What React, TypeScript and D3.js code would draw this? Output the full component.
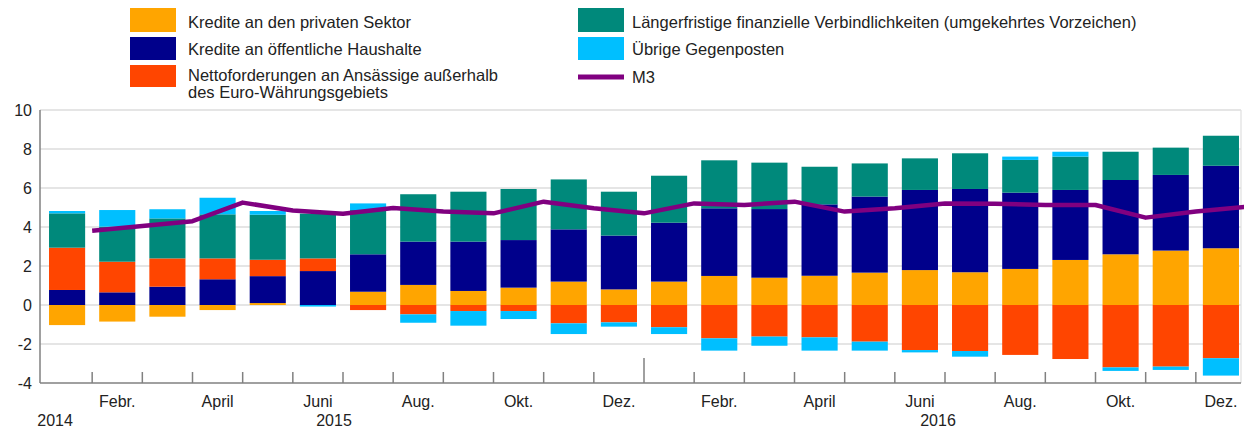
import React from "react";
import * as d3 from "d3";

const months = [
  "Jan 2015", "Feb 2015", "Mär 2015", "Apr 2015", "Mai 2015", "Jun 2015",
  "Jul 2015", "Aug 2015", "Sep 2015", "Okt 2015", "Nov 2015", "Dez 2015",
  "Jan 2016", "Feb 2016", "Mär 2016", "Apr 2016", "Mai 2016", "Jun 2016",
  "Jul 2016", "Aug 2016", "Sep 2016", "Okt 2016", "Nov 2016", "Dez 2016",
];

const privat = [-1.03, -0.85, -0.6, -0.26, 0.1, 0.0, 0.68, 1.03, 0.72, 0.89, 1.2, 0.8, 1.2, 1.49, 1.4, 1.5, 1.66, 1.79, 1.68, 1.85, 2.31, 2.6, 2.79, 2.91];
const oeffentlich = [0.77, 0.65, 0.94, 1.32, 1.38, 1.74, 1.92, 2.22, 2.53, 2.44, 2.68, 2.76, 3.02, 3.47, 3.52, 3.66, 3.9, 4.11, 4.27, 3.91, 3.59, 3.81, 3.88, 4.23];
const netto = [2.17, 1.57, 1.45, 1.07, 0.84, 0.65, -0.26, -0.48, -0.31, -0.31, -0.94, -0.89, -1.14, -1.71, -1.62, -1.66, -1.88, -2.31, -2.36, -2.56, -2.77, -3.2, -3.16, -2.73];
const laengerfristig = [1.76, 1.8, 2.05, 2.26, 2.31, 2.3, 2.27, 2.43, 2.56, 2.62, 2.56, 2.25, 2.41, 2.46, 2.38, 1.93, 1.7, 1.62, 1.83, 1.68, 1.71, 1.45, 1.4, 1.54];
const uebrige = [0.12, 0.85, 0.47, 0.85, 0.19, -0.08, 0.34, -0.43, -0.75, -0.41, -0.55, -0.22, -0.35, -0.63, -0.47, -0.68, -0.46, -0.12, -0.29, 0.17, 0.25, -0.18, -0.17, -0.89];
const m3 = [3.81, 4.05, 4.3, 5.25, 4.85, 4.68, 4.97, 4.79, 4.7, 5.3, 4.96, 4.7, 5.21, 5.13, 5.3, 4.79, 4.96, 5.21, 5.19, 5.13, 5.13, 4.48, 4.79, 5.04];

const yTicks = [-4, -2, 0, 2, 4, 6, 8, 10];
const monthLabels: [number, string][] = [
  [1, "Febr."], [3, "April"], [5, "Juni"], [7, "Aug."], [9, "Okt."], [11, "Dez."],
  [13, "Febr."], [15, "April"], [17, "Juni"], [19, "Aug."], [21, "Okt."], [23, "Dez."],
];
const yearLabels: [number, string, number][] = [
  [0, "2014", -12],
  [6, "2015", -9],
  [18, "2016", -7],
];

const seriesKeys = ["privat", "oeff", "netto", "lang", "uebr"];
const seriesNames = [
  "Kredite an den privaten Sektor",
  "Kredite an öffentliche Haushalte",
  "Nettoforderungen an Ansässige außerhalb",
  "Längerfristige finanzielle Verbindlichkeiten (umgekehrtes Vorzeichen)",
  "Übrige Gegenposten",
];
const colors: Record<string, string> = {
  privat: "#FFA500",
  oeff: "#00008B",
  netto: "#FF4500",
  lang: "#00897B",
  uebr: "#00BFFF",
};
const m3Color = "#800080";

const W = 1244;
const H = 430;
const FONT = "'Liberation Sans', Arial, Helvetica, sans-serif";

export default function App() {
  const rows = months.map((m, i) => ({
    month: m,
    privat: privat[i],
    oeff: oeffentlich[i],
    netto: netto[i],
    lang: laengerfristig[i],
    uebr: uebrige[i],
  }));

  const x = d3.scaleBand<string>().domain(months).range([42, 1246]).paddingInner(0.28).paddingOuter(0.14);
  const y = d3.scaleLinear().domain([-4, 10]).range([383, 110]);
  const step = x.step();
  const bw = x.bandwidth();
  const boundary = (i: number) => (x(months[i]) as number) + bw + (step * 0.28) / 2;

  const stack = d3
    .stack<any>()
    .keys(seriesKeys)
    .order(d3.stackOrderNone)
    .offset(d3.stackOffsetDiverging);
  const stacked = stack(rows);

  const line = d3
    .line<number>()
    .x((_, i) => boundary(i))
    .y((d) => y(d));

  const plotLeft = 40;
  const plotRight = 1241;

  return (
    <svg width={W} height={H} style={{ position: "absolute", left: 0, top: 0, display: "block", background: "#fff" }} fontFamily={FONT}>
      {/* gridlines */}
      {yTicks.filter((t) => t !== -4).map((t) => (
        <line key={t} x1={plotLeft} x2={plotRight} y1={y(t)} y2={y(t)} stroke="#dcdcdc" strokeWidth={1.5} />
      ))}
      <line x1={plotRight} x2={plotRight} y1={y(10)} y2={y(-4)} stroke="#e0e0e0" strokeWidth={1.2} />

      {/* bars */}
      {stacked.map((s) => (
        <g key={s.key} fill={colors[s.key]}>
          {s.map((d, i) => {
            const y0 = y(d[0]);
            const y1 = y(d[1]);
            const h = Math.abs(y0 - y1);
            if (h < 0.01) return null;
            return <rect key={i} x={x(months[i])} width={bw} y={Math.min(y0, y1)} height={h} />;
          })}
        </g>
      ))}

      {/* M3 line */}
      <path d={line(m3) || ""} fill="none" stroke={m3Color} strokeWidth={4.5} strokeLinejoin="round" />

      {/* axes */}
      <line x1={plotLeft} x2={plotLeft} y1={y(10)} y2={y(-4)} stroke="#808080" strokeWidth={1.5} />
      <line x1={plotLeft} x2={plotRight} y1={y(-4)} y2={y(-4)} stroke="#808080" strokeWidth={1.5} />
      {months.slice(0, 23).map((m, i) => (
        <line
          key={m}
          x1={boundary(i)}
          x2={boundary(i)}
          y1={y(-4)}
          y2={y(-4) - (i === 11 ? 25 : 11)}
          stroke="#808080"
          strokeWidth={1.5}
        />
      ))}

      {/* y tick labels */}
      {yTicks.map((t) => (
        <text key={t} x={32} y={y(t)} dy="0.36em" textAnchor="end" fontSize={16} fill="#222">
          {t}
        </text>
      ))}

      {/* x labels */}
      {monthLabels.map(([i, l]) => (
        <text key={i} x={(x(months[i]) as number) + bw / 2} y={407} textAnchor="middle" fontSize={16} fill="#222">
          {l}
        </text>
      ))}
      {yearLabels.map(([i, l, off]) => (
        <text
          key={l}
          x={i === 0 ? (x(months[0]) as number) + bw / 2 + off : (x(months[i]) as number) - step * 0.14 + off}
          y={426}
          textAnchor="middle"
          fontSize={16}
          fill="#222"
        >
          {l}
        </text>
      ))}

      {/* legend */}
      <g fontSize={16.5} fill="#222">
        <rect x={130} y={8} width={46} height={24} fill={colors.privat} />
        <text x={188} y={22} dy="0.35em">{seriesNames[0]}</text>
        <rect x={130} y={37} width={46} height={23} fill={colors.oeff} />
        <text x={188} y={49} dy="0.35em">{seriesNames[1]}</text>
        <rect x={130} y={65} width={46} height={22} fill={colors.netto} />
        <text x={188} y={75} dy="0.35em">{seriesNames[2]}</text>
        <text x={188} y={92} dy="0.35em">des Euro-Währungsgebiets</text>

        <rect x={578} y={8} width={46} height={24} fill={colors.lang} />
        <text x={632} y={22} dy="0.35em">{seriesNames[3]}</text>
        <rect x={578} y={37} width={46} height={23} fill={colors.uebr} />
        <text x={632} y={49} dy="0.35em">{seriesNames[4]}</text>
        <line x1={578} x2={624} y1={77} y2={77} stroke={m3Color} strokeWidth={5} />
        <text x={632} y={77} dy="0.35em">M3</text>
      </g>
    </svg>
  );
}
